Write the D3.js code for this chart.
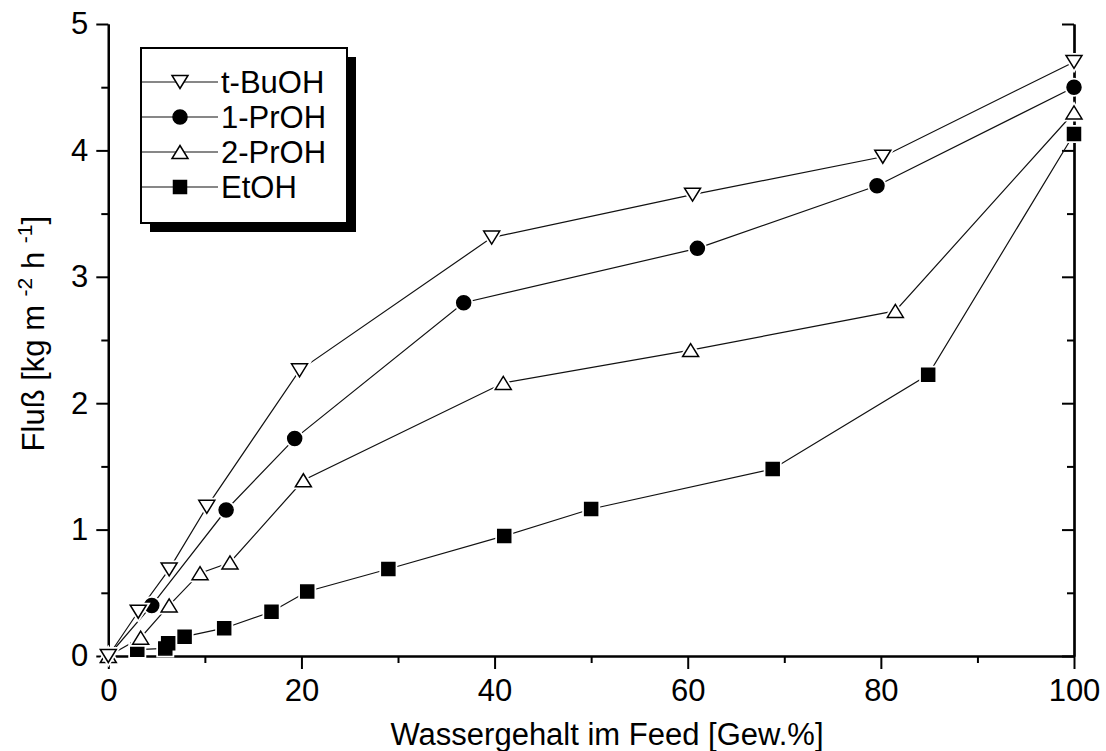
<!DOCTYPE html>
<html>
<head>
<meta charset="utf-8">
<script src="https://cdn.jsdelivr.net/npm/d3@7"></script>
<style>
  body { margin: 0; background: #fff; }
  text { font-family: "Liberation Sans", Arial, sans-serif; fill: #000; }
</style>
</head>
<body>
<script>
// Daten
const seriesNames = ["t-BuOH", "1-PrOH", "2-PrOH", "EtOH"];

const tBuOH_x = [0, 3.1, 6.3, 10.2, 19.8, 39.7, 60.5, 80.2, 100];
const tBuOH_y = [0, 0.35, 0.685, 1.18, 2.26, 3.31, 3.65, 3.95, 4.70];

const prOH1_x = [0, 4.5, 12.2, 19.3, 36.8, 61.0, 79.6, 100];
const prOH1_y = [0, 0.40, 1.155, 1.72, 2.795, 3.225, 3.72, 4.50];

const prOH2_x = [0, 3.35, 6.3, 9.5, 12.6, 20.2, 40.9, 60.3, 81.5, 100];
const prOH2_y = [0, 0.145, 0.40, 0.655, 0.74, 1.39, 2.16, 2.42, 2.73, 4.30];

const etOH_x = [3.0, 5.9, 6.2, 7.9, 12.0, 16.9, 20.6, 29.0, 41.0, 50.0, 68.8, 84.9, 100];
const etOH_y = [0.05, 0.06, 0.10, 0.153, 0.22, 0.35, 0.51, 0.688, 0.95, 1.163, 1.48, 2.225, 4.13];

const xTicks = [0, 20, 40, 60, 80, 100];
const xMinor = [10, 30, 50, 70, 90];
const yTicks = [0, 1, 2, 3, 4, 5];
const yMinor = [0.5, 1.5, 2.5, 3.5, 4.5];

const width = 1106;
const height = 751;
const fontSize = 31;

let svg = d3.select('body')
    .append('svg')
    .attr('width', width)
    .attr('height', height);

let xScale = d3.scaleLinear().domain([0, 100]).range([108.3, 1074]);
let yScale = d3.scaleLinear().domain([0, 5]).range([656, 24]);

// Achsen
function styleAxis(g) {
    g.selectAll('path.domain').attr('stroke', '#000').attr('stroke-width', 2.2);
    g.selectAll('.tick line').attr('stroke', '#000').attr('stroke-width', 2);
    g.selectAll('.tick text')
        .style('font-family', '"Liberation Sans", Arial, sans-serif')
        .style('font-size', fontSize + 'px')
        .attr('fill', '#000');
}

let x0 = yScale(0);
svg.append('g')
    .attr('transform', `translate(0,${x0})`)
    .call(d3.axisBottom(xScale).tickValues(xMinor).tickSize(7).tickFormat('').tickSizeOuter(0))
    .call(styleAxis);
svg.append('g')
    .attr('transform', `translate(0,${x0})`)
    .call(d3.axisBottom(xScale).tickValues(xTicks).tickSize(13).tickPadding(10).tickSizeOuter(0))
    .call(styleAxis);

let yLeft = xScale(0);
svg.append('g')
    .attr('transform', `translate(${yLeft},0)`)
    .call(d3.axisLeft(yScale).tickValues(yMinor).tickSize(7).tickFormat('').tickSizeOuter(0))
    .call(styleAxis);
svg.append('g')
    .attr('transform', `translate(${yLeft},0)`)
    .call(d3.axisLeft(yScale).tickValues(yTicks).tickSize(12).tickPadding(8)
        .tickFormat(d3.format('d')).tickSizeOuter(0))
    .call(styleAxis);

// rechte Achse, Ticks zeigen nach innen (links)
let yRight = xScale(100);
svg.append('g')
    .attr('transform', `translate(${yRight},0)`)
    .call(d3.axisLeft(yScale).tickValues(yMinor).tickSize(7).tickFormat('').tickSizeOuter(0))
    .call(styleAxis);
svg.append('g')
    .attr('transform', `translate(${yRight},0)`)
    .call(d3.axisLeft(yScale).tickValues(yTicks).tickSize(12).tickFormat('').tickSizeOuter(0))
    .call(styleAxis);

// Achsentitel
svg.append('text')
    .attr('x', 607)
    .attr('y', 745)
    .attr('text-anchor', 'middle')
    .style('font-size', fontSize + 'px')
    .text('Wassergehalt im Feed [Gew.%]');

let yTitle = svg.append('text')
    .attr('transform', `translate(44,${yScale(2.55)}) rotate(-90)`)
    .attr('text-anchor', 'middle')
    .style('font-size', fontSize + 'px');
yTitle.append('tspan').text('Fluß [kg m ');
yTitle.append('tspan').attr('dy', -12).style('font-size', '21px').text('-2');
yTitle.append('tspan').attr('dy', 12).text(' h ');
yTitle.append('tspan').attr('dy', -12).style('font-size', '21px').text('-1');
yTitle.append('tspan').attr('dy', 12).text(']');

// Symbole
function markerPath(type) {
    if (type === 'down') return 'M-8,-6.5L8,-6.5L0,6.5Z';
    if (type === 'up') return 'M-8,6.5L8,6.5L0,-6.5Z';
    if (type === 'square') return 'M-6.5,-6.5H6.5V6.5H-6.5Z';
    return d3.symbol(d3.symbolCircle, Math.PI * 7 * 7)();
}

const series = [
    {name: seriesNames[3], xs: etOH_x, ys: etOH_y, marker: 'square', fill: '#000', noMarkerAt0: false},
    {name: seriesNames[2], xs: prOH2_x, ys: prOH2_y, marker: 'up', fill: '#fff', noMarkerAt0: false},
    {name: seriesNames[1], xs: prOH1_x, ys: prOH1_y, marker: 'circle', fill: '#000', noMarkerAt0: true},
    {name: seriesNames[0], xs: tBuOH_x, ys: tBuOH_y, marker: 'down', fill: '#fff', noMarkerAt0: false}
];

let line = d3.line().x(d => xScale(d[0])).y(d => yScale(d[1]));

series.forEach(s => {
    let pts = s.xs.map((x, i) => [x, s.ys[i]]);
    svg.append('path')
        .datum(pts)
        .attr('d', line)
        .attr('fill', 'none')
        .attr('stroke', '#111')
        .attr('stroke-width', 1.2);
});

series.forEach(s => {
    let pts = s.xs.map((x, i) => [x, s.ys[i]]).filter(p => !(s.noMarkerAt0 && p[0] === 0));
    let g = svg.append('g');
    // weißer Rand -> Lücke zwischen Linie und Symbol
    g.selectAll('path.halo').data(pts).enter().append('path')
        .attr('d', markerPath(s.marker))
        .attr('transform', d => `translate(${xScale(d[0])},${yScale(d[1])})`)
        .attr('fill', '#fff')
        .attr('stroke', '#fff')
        .attr('stroke-width', 5);
    g.selectAll('path.mk').data(pts).enter().append('path')
        .attr('d', markerPath(s.marker))
        .attr('transform', d => `translate(${xScale(d[0])},${yScale(d[1])})`)
        .attr('fill', s.fill)
        .attr('stroke', '#000')
        .attr('stroke-width', 1.5);
});

// Legende
let lg = svg.append('g');
lg.append('rect').attr('x', 150).attr('y', 57).attr('width', 206).attr('height', 175).attr('fill', '#000');
lg.append('rect').attr('x', 141).attr('y', 48).attr('width', 206).attr('height', 175)
    .attr('fill', '#fff').attr('stroke', '#000').attr('stroke-width', 2);

const legendOrder = [3, 2, 1, 0];
legendOrder.forEach((si, i) => {
    let s = series[si];
    let ly = 82 + i * 35;
    lg.append('line').attr('x1', 142).attr('x2', 218).attr('y1', ly).attr('y2', ly)
        .attr('stroke', '#111').attr('stroke-width', 1.2);
    lg.append('path').attr('d', markerPath(s.marker))
        .attr('transform', `translate(180,${ly})`)
        .attr('fill', s.fill).attr('stroke', '#000').attr('stroke-width', 1.5);
    lg.append('text').attr('x', 221).attr('y', ly + 11)
        .style('font-size', fontSize + 'px')
        .text(s.name);
});
</script>
</body>
</html>
